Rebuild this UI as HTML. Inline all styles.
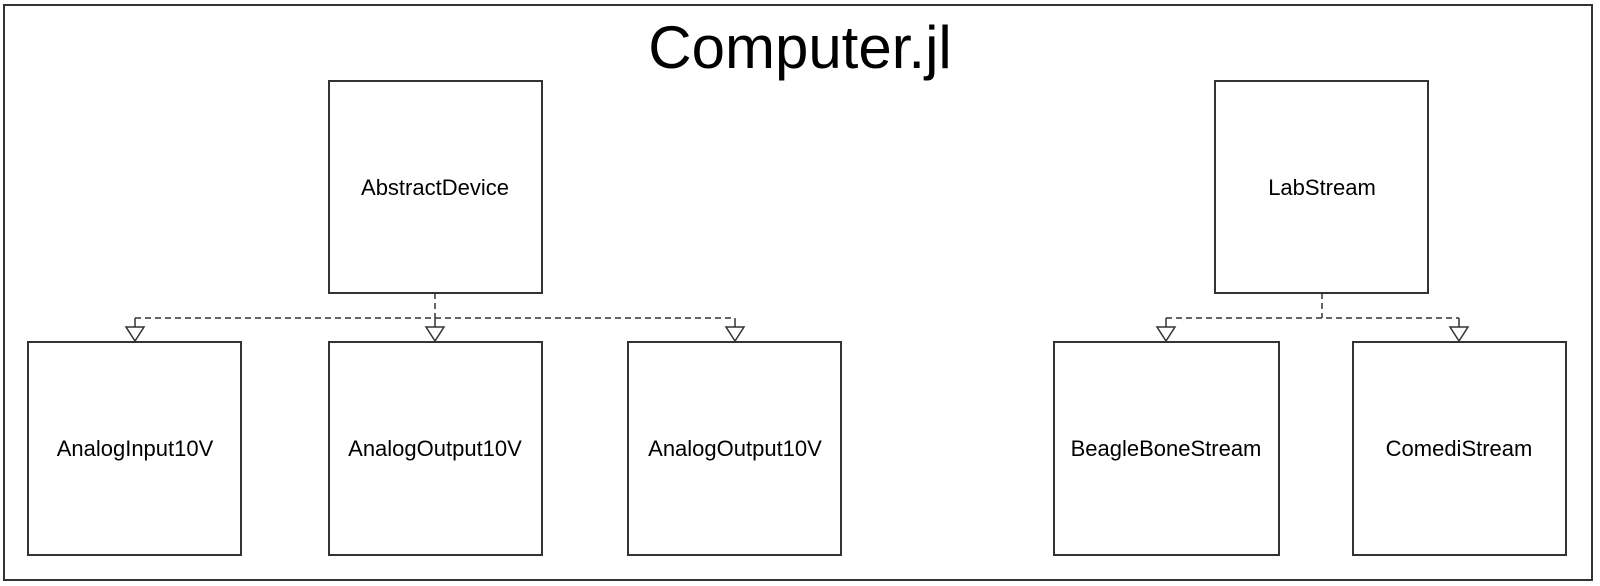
<!DOCTYPE html>
<html><head><meta charset="utf-8"><style>html,body{margin:0;padding:0;background:#fff}svg{display:block}</style></head>
<body>
<svg width="1600" height="586" viewBox="0 0 1600 586" xmlns="http://www.w3.org/2000/svg" font-family="Liberation Sans, Arial, sans-serif">
<rect x="4" y="5" width="1588" height="575" fill="#fff" stroke="#333" stroke-width="2"/>
<text x="800" y="68" font-size="60" text-anchor="middle" fill="#000">Computer.jl</text>
<g fill="#fff" stroke="#333" stroke-width="2">
<rect x="329" y="81" width="213" height="212"/>
<rect x="1215" y="81" width="213" height="212"/>
<rect x="28" y="342" width="213" height="213"/>
<rect x="329" y="342" width="213" height="213"/>
<rect x="628" y="342" width="213" height="213"/>
<rect x="1054" y="342" width="225" height="213"/>
<rect x="1353" y="342" width="213" height="213"/>
</g>
<g stroke="#333" stroke-width="1.5" fill="none" stroke-dasharray="6,4">
<path d="M435 293 V318"/>
<path d="M135 318 H735"/>
<path d="M1322 293 V318"/>
<path d="M1166 318 H1459"/>
</g>
<g stroke="#333" stroke-width="1.5" fill="#fff">
<path d="M135 318 V327 M435 318 V327 M735 318 V327 M1166 318 V327 M1459 318 V327"/>
<path d="M126 327 H144 L135 341 Z"/>
<path d="M426 327 H444 L435 341 Z"/>
<path d="M726 327 H744 L735 341 Z"/>
<path d="M1157 327 H1175 L1166 341 Z"/>
<path d="M1450 327 H1468 L1459 341 Z"/>
</g>
<g font-size="22" text-anchor="middle" fill="#000">
<text x="435" y="195">AbstractDevice</text>
<text x="1322" y="195">LabStream</text>
<text x="135" y="456">AnalogInput10V</text>
<text x="435" y="456">AnalogOutput10V</text>
<text x="735" y="456">AnalogOutput10V</text>
<text x="1166" y="456">BeagleBoneStream</text>
<text x="1459" y="456">ComediStream</text>
</g>
</svg>
</body></html>
